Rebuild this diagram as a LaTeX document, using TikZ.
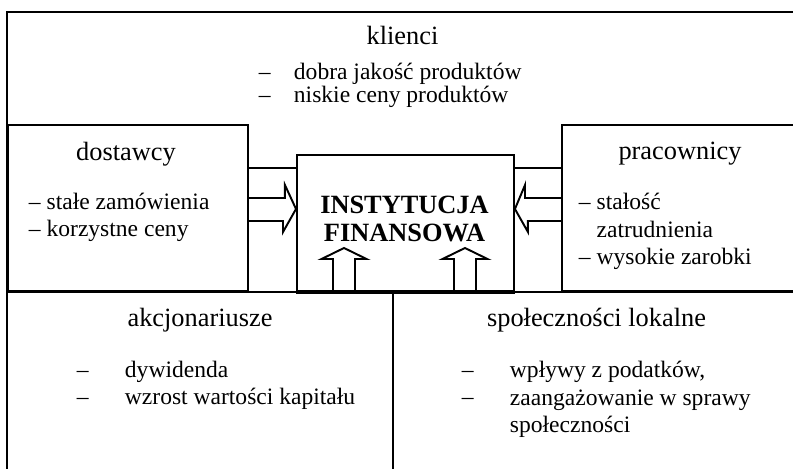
\documentclass[tikz,border=0pt]{standalone}
\usepackage{fontspec}
\setmainfont{Liberation Serif}
\usetikzlibrary{calc}
\usetikzlibrary{positioning}

\tikzset{
  heading/.style={font=\fontsize{15}{18}\selectfont, anchor=base, inner sep=0pt},
  points/.style={font=\fontsize{13.4}{15.9}\selectfont, align=left, anchor=base west, inner sep=0pt},
  box/.style={draw, anchor=south west, inner sep=0pt},
  title/.style={font=\fontsize{15}{16.4}\selectfont\bfseries, align=center, anchor=base, inner sep=0pt},
}

\begin{document}
\begin{tikzpicture}[line width=1.1pt]
  \useasboundingbox (0,0) rectangle (15.86,9.36);

  % frame and dividers
  \draw (0.14,-0.3) -- (0.14,9.12) -- (16.2,9.12);
  \draw (0.14,3.52) -- (16.2,3.52);
  \draw (7.86,3.52) -- (7.86,-0.3);

  \node [box, minimum width=4.80cm, minimum height=3.32cm] at (0.14,3.52) (supp) {};
  \node [box, minimum width=5.00cm, minimum height=3.32cm] at (11.22,3.52) (staff) {};
  \node [box, minimum width=4.34cm, minimum height=2.72cm] at (5.92,3.52) (inst) {};
  \draw [line width=1.8pt] (inst.south west) -- (inst.south east);

  % links to the side boxes
  \draw (supp.east |- 0,6.00) -- (inst.west |- 0,6.00);
  \draw (staff.west |- 0,6.00) -- (inst.east |- 0,6.00);

  % arrows into the institution
  \draw (supp.east |- 0,5.40) -- ++(0.72,0) -- ++(0,0.26) -- (inst.west |- 0,5.18)
        -- ++(-0.26,-0.46) -- ++(0,0.22) -- (supp.east |- 0,4.94);
  \draw (staff.west |- 0,5.40) -- ++(-0.72,0) -- ++(0,0.26) -- (inst.east |- 0,5.18)
        -- ++(0.26,-0.46) -- ++(0,0.22) -- (staff.west |- 0,4.94);
  \foreach \x in {6.88,9.30} {
    \draw (inst.south -| \x,0) ++(-0.22,0) -- ++(0,0.66) -- ++(-0.23,0) -- ++(0.45,0.22)
          -- ++(0.45,-0.22) -- ++(-0.23,0) -- ++(0,-0.66);
  }

  \node [title] at (8.09,4.52) (instname) {INSTYTUCJA\\FINANSOWA};

  % klienci (multi-line nodes sit on their last baseline)
  \node [heading] at (8.05,8.46) (clients) {klienci};
  \node [points, font=\fontsize{13.4}{13.2}\selectfont] at (5.16,7.30) (clientsdash) {–\\–};
  \node [points, font=\fontsize{13.4}{13.2}\selectfont] at (5.86,7.30) (clientslist) {dobra jakość produktów\\niskie ceny produktów};

  % dostawcy
  \node [heading] at (2.52,6.15) (supphead) {dostawcy};
  \node [points] at (0.56,4.62) (supplist) {– stałe zamówienia\\– korzystne ceny};

  % pracownicy
  \node [heading] at (13.60,6.17) (staffhead) {pracownicy};
  \node [points] at (11.56,4.06) (stafflist) {– stałość\\\hphantom{– }zatrudnienia\\– wysokie zarobki};

  % akcjonariusze
  \node [heading] at (4.00,2.82) (owners) {akcjonariusze};
  \node [points] at (1.52,1.26) (ownersdash) {–\\–};
  \node [points] at (2.48,1.26) (ownerslist) {dywidenda\\wzrost wartości kapitału};

  % społeczności lokalne
  \node [heading] at (11.93,2.82) (locals) {społeczności lokalne};
  \node [points] at (9.22,1.26) (localsdash) {–\\–};
  \node [points] at (10.18,0.70) (localslist) {wpływy z podatków,\\zaangażowanie w sprawy\\społeczności};
\end{tikzpicture}
\end{document}
